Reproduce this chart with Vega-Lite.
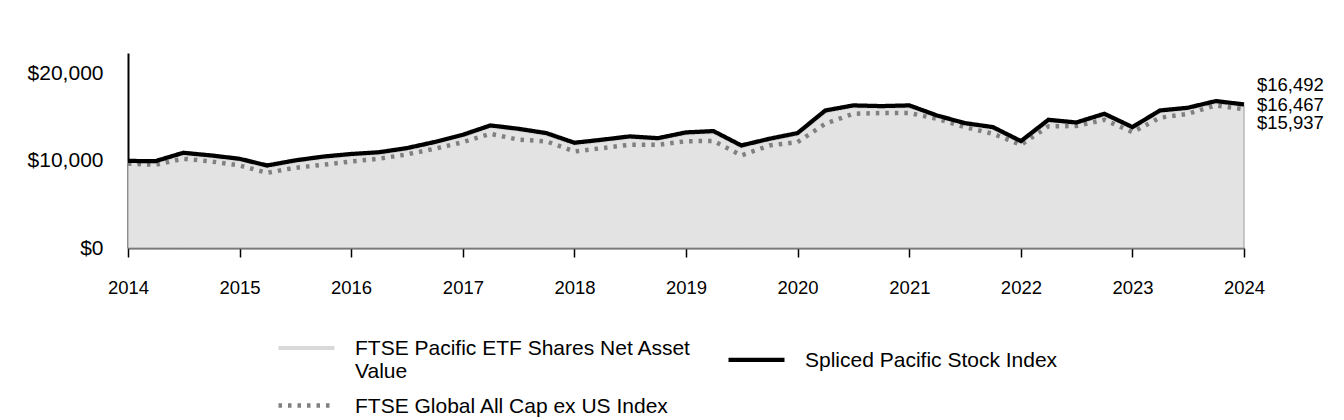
{
  "$schema": "https://vega.github.io/schema/vega-lite/v6.json",
  "autosize": "none",
  "width": 1116,
  "height": 195,
  "padding": {"left": 128, "top": 53, "right": 100, "bottom": 172},
  "background": "white",
  "config": {"view": {"stroke": null}, "font": "Liberation Sans"},
  "datasets": {
    "main": [
      {"date": "2014-01-01T00:00:00", "FTSE Pacific ETF Shares Net Asset Value": 10000, "FTSE Global All Cap ex US Index": 9700, "Spliced Pacific Stock Index": 10000},
      {"date": "2014-04-01T00:00:00", "FTSE Pacific ETF Shares Net Asset Value": 9830, "FTSE Global All Cap ex US Index": 9560, "Spliced Pacific Stock Index": 9980},
      {"date": "2014-07-01T00:00:00", "FTSE Pacific ETF Shares Net Asset Value": 10790, "FTSE Global All Cap ex US Index": 10250, "Spliced Pacific Stock Index": 10940},
      {"date": "2014-10-01T00:00:00", "FTSE Pacific ETF Shares Net Asset Value": 10480, "FTSE Global All Cap ex US Index": 9940, "Spliced Pacific Stock Index": 10630},
      {"date": "2015-01-01T00:00:00", "FTSE Pacific ETF Shares Net Asset Value": 10100, "FTSE Global All Cap ex US Index": 9480, "Spliced Pacific Stock Index": 10250},
      {"date": "2015-04-01T00:00:00", "FTSE Pacific ETF Shares Net Asset Value": 9330, "FTSE Global All Cap ex US Index": 8640, "Spliced Pacific Stock Index": 9480},
      {"date": "2015-07-01T00:00:00", "FTSE Pacific ETF Shares Net Asset Value": 9910, "FTSE Global All Cap ex US Index": 9210, "Spliced Pacific Stock Index": 10060},
      {"date": "2015-10-01T00:00:00", "FTSE Pacific ETF Shares Net Asset Value": 10350, "FTSE Global All Cap ex US Index": 9560, "Spliced Pacific Stock Index": 10500},
      {"date": "2016-01-01T00:00:00", "FTSE Pacific ETF Shares Net Asset Value": 10650, "FTSE Global All Cap ex US Index": 9940, "Spliced Pacific Stock Index": 10800},
      {"date": "2016-04-01T00:00:00", "FTSE Pacific ETF Shares Net Asset Value": 10850, "FTSE Global All Cap ex US Index": 10250, "Spliced Pacific Stock Index": 11000},
      {"date": "2016-07-01T00:00:00", "FTSE Pacific ETF Shares Net Asset Value": 11320, "FTSE Global All Cap ex US Index": 10750, "Spliced Pacific Stock Index": 11470},
      {"date": "2016-10-01T00:00:00", "FTSE Pacific ETF Shares Net Asset Value": 12030, "FTSE Global All Cap ex US Index": 11400, "Spliced Pacific Stock Index": 12180},
      {"date": "2017-01-01T00:00:00", "FTSE Pacific ETF Shares Net Asset Value": 12860, "FTSE Global All Cap ex US Index": 12160, "Spliced Pacific Stock Index": 13010},
      {"date": "2017-04-01T00:00:00", "FTSE Pacific ETF Shares Net Asset Value": 13930, "FTSE Global All Cap ex US Index": 13120, "Spliced Pacific Stock Index": 14080},
      {"date": "2017-07-01T00:00:00", "FTSE Pacific ETF Shares Net Asset Value": 13550, "FTSE Global All Cap ex US Index": 12450, "Spliced Pacific Stock Index": 13700},
      {"date": "2017-10-01T00:00:00", "FTSE Pacific ETF Shares Net Asset Value": 13050, "FTSE Global All Cap ex US Index": 12250, "Spliced Pacific Stock Index": 13200},
      {"date": "2018-01-01T00:00:00", "FTSE Pacific ETF Shares Net Asset Value": 11940, "FTSE Global All Cap ex US Index": 11090, "Spliced Pacific Stock Index": 12090},
      {"date": "2018-04-01T00:00:00", "FTSE Pacific ETF Shares Net Asset Value": 12290, "FTSE Global All Cap ex US Index": 11470, "Spliced Pacific Stock Index": 12440},
      {"date": "2018-07-01T00:00:00", "FTSE Pacific ETF Shares Net Asset Value": 12670, "FTSE Global All Cap ex US Index": 11860, "Spliced Pacific Stock Index": 12820},
      {"date": "2018-10-01T00:00:00", "FTSE Pacific ETF Shares Net Asset Value": 12470, "FTSE Global All Cap ex US Index": 11860, "Spliced Pacific Stock Index": 12620},
      {"date": "2019-01-01T00:00:00", "FTSE Pacific ETF Shares Net Asset Value": 13130, "FTSE Global All Cap ex US Index": 12260, "Spliced Pacific Stock Index": 13280},
      {"date": "2019-04-01T00:00:00", "FTSE Pacific ETF Shares Net Asset Value": 13280, "FTSE Global All Cap ex US Index": 12300, "Spliced Pacific Stock Index": 13430},
      {"date": "2019-07-01T00:00:00", "FTSE Pacific ETF Shares Net Asset Value": 11630, "FTSE Global All Cap ex US Index": 10630, "Spliced Pacific Stock Index": 11780},
      {"date": "2019-10-01T00:00:00", "FTSE Pacific ETF Shares Net Asset Value": 12400, "FTSE Global All Cap ex US Index": 11780, "Spliced Pacific Stock Index": 12550},
      {"date": "2020-01-01T00:00:00", "FTSE Pacific ETF Shares Net Asset Value": 13050, "FTSE Global All Cap ex US Index": 12160, "Spliced Pacific Stock Index": 13200},
      {"date": "2020-04-01T00:00:00", "FTSE Pacific ETF Shares Net Asset Value": 15650, "FTSE Global All Cap ex US Index": 14270, "Spliced Pacific Stock Index": 15800},
      {"date": "2020-07-01T00:00:00", "FTSE Pacific ETF Shares Net Asset Value": 16230, "FTSE Global All Cap ex US Index": 15420, "Spliced Pacific Stock Index": 16380},
      {"date": "2020-10-01T00:00:00", "FTSE Pacific ETF Shares Net Asset Value": 16150, "FTSE Global All Cap ex US Index": 15500, "Spliced Pacific Stock Index": 16300},
      {"date": "2021-01-01T00:00:00", "FTSE Pacific ETF Shares Net Asset Value": 16230, "FTSE Global All Cap ex US Index": 15500, "Spliced Pacific Stock Index": 16380},
      {"date": "2021-04-01T00:00:00", "FTSE Pacific ETF Shares Net Asset Value": 15080, "FTSE Global All Cap ex US Index": 14850, "Spliced Pacific Stock Index": 15230},
      {"date": "2021-07-01T00:00:00", "FTSE Pacific ETF Shares Net Asset Value": 14200, "FTSE Global All Cap ex US Index": 13890, "Spliced Pacific Stock Index": 14350},
      {"date": "2021-10-01T00:00:00", "FTSE Pacific ETF Shares Net Asset Value": 13740, "FTSE Global All Cap ex US Index": 13120, "Spliced Pacific Stock Index": 13890},
      {"date": "2022-01-01T00:00:00", "FTSE Pacific ETF Shares Net Asset Value": 12130, "FTSE Global All Cap ex US Index": 11860, "Spliced Pacific Stock Index": 12280},
      {"date": "2022-04-01T00:00:00", "FTSE Pacific ETF Shares Net Asset Value": 14580, "FTSE Global All Cap ex US Index": 13970, "Spliced Pacific Stock Index": 14730},
      {"date": "2022-07-01T00:00:00", "FTSE Pacific ETF Shares Net Asset Value": 14270, "FTSE Global All Cap ex US Index": 14020, "Spliced Pacific Stock Index": 14420},
      {"date": "2022-10-01T00:00:00", "FTSE Pacific ETF Shares Net Asset Value": 15270, "FTSE Global All Cap ex US Index": 14730, "Spliced Pacific Stock Index": 15420},
      {"date": "2023-01-01T00:00:00", "FTSE Pacific ETF Shares Net Asset Value": 13740, "FTSE Global All Cap ex US Index": 13310, "Spliced Pacific Stock Index": 13890},
      {"date": "2023-04-01T00:00:00", "FTSE Pacific ETF Shares Net Asset Value": 15650, "FTSE Global All Cap ex US Index": 14960, "Spliced Pacific Stock Index": 15800},
      {"date": "2023-07-01T00:00:00", "FTSE Pacific ETF Shares Net Asset Value": 15960, "FTSE Global All Cap ex US Index": 15420, "Spliced Pacific Stock Index": 16110},
      {"date": "2023-10-01T00:00:00", "FTSE Pacific ETF Shares Net Asset Value": 16730, "FTSE Global All Cap ex US Index": 16380, "Spliced Pacific Stock Index": 16880},
      {"date": "2024-01-01T00:00:00", "FTSE Pacific ETF Shares Net Asset Value": 16467, "FTSE Global All Cap ex US Index": 15937, "Spliced Pacific Stock Index": 16492}
    ],
    "ends": [
      {"date": "2024-01-01T00:00:00", "series": "Spliced Pacific Stock Index", "value": 16492, "label": "$16,492"},
      {"date": "2024-01-01T00:00:00", "series": "FTSE Pacific ETF Shares Net Asset Value", "value": 16467, "label": "$16,467"},
      {"date": "2024-01-01T00:00:00", "series": "FTSE Global All Cap ex US Index", "value": 15937, "label": "$15,937"}
    ]
  },
  "encoding": {
    "x": {
      "field": "date", "type": "temporal",
      "scale": {"nice": false},
      "axis": {
        "title": null, "grid": false, "format": "%Y",
        "tickCount": {"interval": "year", "step": 1},
        "tickSize": 9, "tickColor": "#000000", "tickWidth": 1.5,
        "domainColor": "#595959", "domainWidth": 2,
        "labelPadding": 21, "labelFontSize": 18.5, "labelColor": "#000000",
        "labelFont": "Liberation Sans", "labelFlush": false, "labelOverlap": false
      }
    },
    "y": {
      "field": "value", "type": "quantitative",
      "scale": {"domain": [0, 22400], "nice": false, "zero": true},
      "axis": {
        "title": null, "grid": false, "ticks": false,
        "values": [0, 10000, 20000], "format": "$,.0f",
        "domainColor": "#000000", "domainWidth": 2,
        "labelPadding": 25, "labelFontSize": 21, "labelColor": "#000000",
        "labelFont": "Liberation Sans"
      }
    }
  },
  "layer": [
    {
      "data": {"name": "main"},
      "transform": [
        {"fold": ["FTSE Pacific ETF Shares Net Asset Value"], "as": ["series", "value"]}
      ],
      "mark": {"type": "area", "color": "#e3e3e3", "stroke": "#9a9a9a", "strokeWidth": 1}
    },
    {
      "data": {"name": "main"},
      "transform": [
        {"fold": ["FTSE Pacific ETF Shares Net Asset Value", "FTSE Global All Cap ex US Index", "Spliced Pacific Stock Index"], "as": ["series", "value"]}
      ],
      "mark": {"type": "line", "strokeCap": "butt"},
      "encoding": {
        "color": {
          "field": "series", "type": "nominal",
          "scale": {
            "domain": ["FTSE Pacific ETF Shares Net Asset Value", "Spliced Pacific Stock Index", "FTSE Global All Cap ex US Index"],
            "range": ["#d9d9d9", "#000000", "#808080"]
          },
          "legend": {
            "title": null, "orient": "none", "legendX": 162, "legendY": 279,
            "direction": "horizontal",
            "columns": 2, "symbolType": "M-2,0H2", "symbolSize": 784,
            "labelFont": "Liberation Sans", "labelFontSize": 21, "labelColor": "#000000",
            "labelOffset": 32, "columnPadding": 28, "rowPadding": 7, "padding": 0,
            "labelBaseline": "alphabetic", "labelLimit": 1000,
            "labelExpr": "datum.label == 'FTSE Pacific ETF Shares Net Asset Value' ? ['FTSE Pacific ETF Shares Net Asset', 'Value'] : datum.label",
            "encode": {
              "labels": {"update": {"dy": {"value": 7}}}
            }
          }
        },
        "strokeDash": {
          "field": "series", "type": "nominal",
          "scale": {
            "domain": ["FTSE Pacific ETF Shares Net Asset Value", "Spliced Pacific Stock Index", "FTSE Global All Cap ex US Index"],
            "range": [[1, 0], [1, 0], [3.5, 6]]
          },
          "legend": null
        },
        "strokeWidth": {
          "field": "series", "type": "nominal",
          "scale": {
            "domain": ["FTSE Pacific ETF Shares Net Asset Value", "Spliced Pacific Stock Index", "FTSE Global All Cap ex US Index"],
            "range": [4, 4.5, 3.5]
          },
          "legend": null
        }
      }
    },
    {
      "data": {"name": "ends"},
      "transform": [{"filter": "datum.series == 'Spliced Pacific Stock Index'"}],
      "mark": {"type": "text", "align": "left", "baseline": "middle", "dx": 13, "dy": -19, "fontSize": 18.5, "font": "Liberation Sans", "color": "#000000"},
      "encoding": {"text": {"field": "label"}}
    },
    {
      "data": {"name": "ends"},
      "transform": [{"filter": "datum.series == 'FTSE Pacific ETF Shares Net Asset Value'"}],
      "mark": {"type": "text", "align": "left", "baseline": "middle", "dx": 13, "dy": 0, "fontSize": 18.5, "font": "Liberation Sans", "color": "#000000"},
      "encoding": {"text": {"field": "label"}}
    },
    {
      "data": {"name": "ends"},
      "transform": [{"filter": "datum.series == 'FTSE Global All Cap ex US Index'"}],
      "mark": {"type": "text", "align": "left", "baseline": "middle", "dx": 13, "dy": 14, "fontSize": 18.5, "font": "Liberation Sans", "color": "#000000"},
      "encoding": {"text": {"field": "label"}}
    }
  ]
}
